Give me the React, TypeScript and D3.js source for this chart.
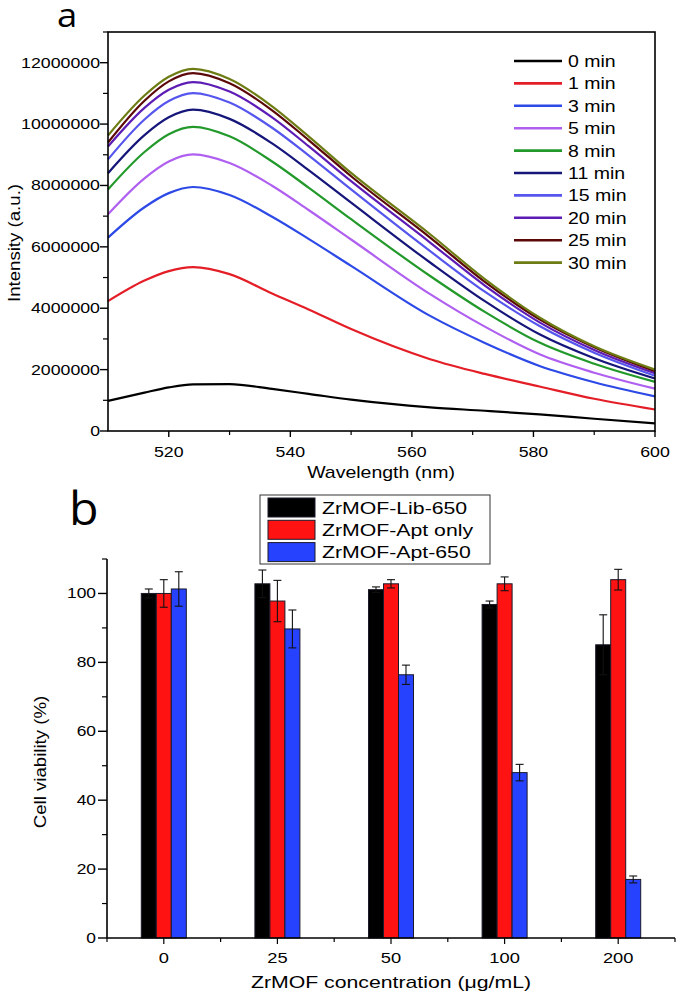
import React from "react";
import * as d3 from "d3";

// ---------- Panel a data ----------
const wavelengths = [510, 516, 520, 524, 530, 537, 543, 550, 563, 572, 581, 590, 600];
const timeLabels = ["0 min", "1 min", "3 min", "5 min", "8 min", "11 min", "15 min", "20 min", "25 min", "30 min"];
const timeColors = ["#000000", "#e41e26", "#2d49e6", "#b060f0", "#22992a", "#15157a", "#5656ee", "#5d1cb5", "#5c0808", "#6e7c14"];
const int0 = [0.98e6, 1.25e6, 1.42e6, 1.52e6, 1.53e6, 1.37e6, 1.21e6, 1.02e6, 0.77e6, 0.66e6, 0.54e6, 0.40e6, 0.25e6];
const int1 = [4.23e6, 4.9e6, 5.21e6, 5.34e6, 5.11e6, 4.48e6, 3.96e6, 3.32e6, 2.34e6, 1.86e6, 1.45e6, 1.05e6, 0.70e6];
const int3 = [6.3e6, 7.29e6, 7.75e6, 7.95e6, 7.69e6, 6.98e6, 6.26e6, 5.38e6, 3.75e6, 2.87e6, 2.12e6, 1.59e6, 1.13e6];
const int5 = [7.06e6, 8.23e6, 8.78e6, 9.01e6, 8.73e6, 7.99e6, 7.2e6, 6.24e6, 4.46e6, 3.40e6, 2.5e6, 1.9e6, 1.38e6];
const int8 = [7.87e6, 9.09e6, 9.67e6, 9.91e6, 9.6e6, 8.78e6, 7.93e6, 6.9e6, 5.05e6, 3.88e6, 2.88e6, 2.19e6, 1.6e6];
const int11 = [8.4e6, 9.64e6, 10.22e6, 10.47e6, 10.17e6, 9.37e6, 8.5e6, 7.44e6, 5.49e6, 4.23e6, 3.15e6, 2.37e6, 1.71e6];
const int15 = [8.85e6, 10.15e6, 10.75e6, 11.01e6, 10.7e6, 9.88e6, 8.98e6, 7.87e6, 5.86e6, 4.54e6, 3.42e6, 2.55e6, 1.8e6];
const int20 = [9.27e6, 10.53e6, 11.12e6, 11.37e6, 11.06e6, 10.22e6, 9.28e6, 8.14e6, 6.14e6, 4.74e6, 3.54e6, 2.64e6, 1.88e6];
const int25 = [9.4e6, 10.76e6, 11.39e6, 11.66e6, 11.33e6, 10.45e6, 9.48e6, 8.3e6, 6.3e6, 4.86e6, 3.64e6, 2.73e6, 1.95e6];
const int30 = [9.63e6, 10.93e6, 11.54e6, 11.8e6, 11.47e6, 10.58e6, 9.6e6, 8.41e6, 6.41e6, 4.95e6, 3.7e6, 2.76e6, 2.0e6];
const spectra = [int0, int1, int3, int5, int8, int11, int15, int20, int25, int30];
const aYTicks = [0, 2000000, 4000000, 6000000, 8000000, 10000000, 12000000];
const aXTicks = [520, 540, 560, 580, 600];

// ---------- Panel b data ----------
const concentrations = ["0", "25", "50", "100", "200"];
const seriesNames = ["ZrMOF-Lib-650", "ZrMOF-Apt only", "ZrMOF-Apt-650"];
const seriesColors = ["#000000", "#fe1212", "#2742fe"];
const libMean = [100, 102.8, 101.1, 96.8, 85.1];
const libErr = [1.3, 4, 0.8, 1, 8.7];
const aptOnlyMean = [100, 97.8, 102.8, 102.8, 104];
const aptOnlyErr = [4, 6, 1.2, 2, 3];
const apt650Mean = [101.3, 89.7, 76.4, 48, 17];
const apt650Err = [5, 5.5, 2.8, 2.4, 1];
const bMeans = [libMean, aptOnlyMean, apt650Mean];
const bErrs = [libErr, aptOnlyErr, apt650Err];
const bYTicks = [0, 20, 40, 60, 80, 100];

const FONT = "'Liberation Sans', Arial, sans-serif";

function T({ x, y, size, anchor = "start", sx = 1.22, rotate = 0, children, family = FONT }: any) {
  const tr = rotate ? `translate(${x},${y}) rotate(${rotate}) scale(${sx},1)` : `translate(${x},${y}) scale(${sx},1)`;
  return (
    <text transform={tr} fontSize={size} textAnchor={anchor} fontFamily={family} fill="#000">
      {children}
    </text>
  );
}

export default function App() {
  // Panel a scales
  const ax0 = 108, ax1 = 655, ay0 = 32, ay1 = 431;
  const xA = d3.scaleLinear().domain([510, 600]).range([ax0, ax1]);
  const yA = d3.scaleLinear().domain([0, 13000000]).range([ay1, ay0]);
  const line = d3
    .line<number>()
    .x((_, i) => xA(wavelengths[i]))
    .y((d) => yA(d))
    .curve(d3.curveMonotoneX);
  const aMinorY = d3.range(1000000, 13000001, 2000000);
  const aMinorX = [530, 550, 570, 590];

  // Panel b scales
  const bx0 = 107, bx1 = 675, by0 = 559, by1 = 938;
  const xB = d3.scalePoint<string>().domain(concentrations).range([bx0, bx1]).padding(0.5);
  const sub = d3.scaleBand<number>().domain([0, 1, 2]).range([-22.5, 22.5]);
  const yB = d3.scaleLinear().domain([0, 110]).range([by1, by0]);
  const stepB = xB.step();
  const bXTickPos = d3.range(0, 11).map((k) => bx0 + (k * stepB) / 2);
  const bMinorY = [10, 30, 50, 70, 90, 110];

  return (
    <svg width={680} height={996} style={{ position: "absolute", left: 0, top: 0, background: "#fff" }}>
      <rect x={0} y={0} width={680} height={996} fill="#fff" />
      {/* ===== Panel a ===== */}
      <T x={57} y={27} size={32} sx={1.14} family="'Open Sans', sans-serif">a</T>
      {spectra.map((s, i) => (
        <path key={i} d={line(s) || ""} fill="none" stroke={timeColors[i]} strokeWidth={2.2} strokeLinejoin="round" />
      ))}
      <rect x={ax0} y={ay0} width={ax1 - ax0} height={ay1 - ay0} fill="none" stroke="#000" strokeWidth={1.6} />
      {aYTicks.map((t) => (
        <g key={t}>
          <line x1={ax0 - 8} x2={ax0} y1={yA(t)} y2={yA(t)} stroke="#000" strokeWidth={1.4} />
          <T x={100} y={yA(t) + 5} size={14.2} anchor="end" sx={1.25}>{d3.format("d")(t)}</T>
        </g>
      ))}
      {aMinorY.map((t) => (
        <line key={t} x1={ax0 - 5} x2={ax0} y1={yA(t)} y2={yA(t)} stroke="#000" strokeWidth={1.2} />
      ))}
      {aXTicks.map((t) => (
        <g key={t}>
          <line x1={xA(t)} x2={xA(t)} y1={ay1} y2={ay1 + 6} stroke="#000" strokeWidth={1.4} />
          <T x={xA(t)} y={457} size={14.2} anchor="middle" sx={1.25}>{t}</T>
        </g>
      ))}
      {aMinorX.map((t) => (
        <line key={t} x1={xA(t)} x2={xA(t)} y1={ay1} y2={ay1 + 4} stroke="#000" strokeWidth={1.2} />
      ))}
      <T x={381} y={478} size={16} anchor="middle">Wavelength (nm)</T>
      <T x={20} y={243} size={16.5} anchor="middle" rotate={-90} sx={1.13}>Intensity (a.u.)</T>
      {timeLabels.map((lab, i) => (
        <g key={lab}>
          <line x1={514} x2={562} y1={61 + i * 22.4} y2={61 + i * 22.4} stroke={timeColors[i]} strokeWidth={2.6} />
          <T x={568} y={61 + i * 22.4 + 6} size={16}>{lab}</T>
        </g>
      ))}

      {/* ===== Panel b ===== */}
      <T x={69} y={525} size={46} sx={1.05} family="'Open Sans', sans-serif">b</T>
      {concentrations.map((c, ci) => (
        <g key={c}>
          {bMeans.map((m, si) => {
            const x = (xB(c) as number) + (sub(si) as number);
            const w = sub.bandwidth();
            return (
              <rect key={si} x={x} y={yB(m[ci])} width={w} height={yB(0) - yB(m[ci])} fill={seriesColors[si]} stroke="#1a1a2a" strokeWidth={1} />
            );
          })}
          {bMeans.map((m, si) => {
            const cx = (xB(c) as number) + (sub(si) as number) + sub.bandwidth() / 2;
            const e = bErrs[si][ci];
            const yt = yB(m[ci] + e), yb = yB(m[ci] - e);
            return (
              <g key={"e" + si} stroke="#111" strokeWidth={1.1}>
                <line x1={cx} x2={cx} y1={yt} y2={yb} />
                <line x1={cx - 4} x2={cx + 4} y1={yt} y2={yt} />
                <line x1={cx - 4} x2={cx + 4} y1={yb} y2={yb} />
              </g>
            );
          })}
        </g>
      ))}
      <line x1={bx0} x2={bx0} y1={by0} y2={by1} stroke="#000" strokeWidth={1.6} />
      <line x1={bx0} x2={bx1} y1={by1} y2={by1} stroke="#000" strokeWidth={1.6} />
      {bYTicks.map((t) => (
        <g key={t}>
          <line x1={bx0 - 9} x2={bx0} y1={yB(t)} y2={yB(t)} stroke="#000" strokeWidth={1.4} />
          <T x={96} y={yB(t) + 5} size={14.5} anchor="end" sx={1.2}>{t}</T>
        </g>
      ))}
      {bMinorY.map((t) => (
        <line key={t} x1={bx0 - 5} x2={bx0} y1={yB(t)} y2={yB(t)} stroke="#000" strokeWidth={1.2} />
      ))}
      {bXTickPos.map((p, k) => (
        <line key={k} x1={p} x2={p} y1={by1} y2={by1 + (k % 2 === 1 ? 6 : 4)} stroke="#000" strokeWidth={1.2} />
      ))}
      {concentrations.map((c) => (
        <T key={c} x={xB(c) as number} y={963} size={15} anchor="middle" sx={1.22}>{c}</T>
      ))}
      <T x={391} y={988} size={17} anchor="middle" sx={1.25}>ZrMOF concentration (μg/mL)</T>
      <T x={46} y={762} size={16.5} anchor="middle" rotate={-90} sx={1.13}>Cell viability (%)</T>
      <rect x={260} y={495} width={230} height={69} fill="#fff" stroke="#333" strokeWidth={1} />
      {seriesNames.map((n, i) => (
        <g key={n}>
          <rect x={268} y={498 + i * 22.3} width={47} height={19} fill={seriesColors[i]} stroke="#1a1a2a" strokeWidth={1} />
          <T x={322} y={498 + i * 22.3 + 15.5} size={17} sx={1.25}>{n}</T>
        </g>
      ))}
    </svg>
  );
}
